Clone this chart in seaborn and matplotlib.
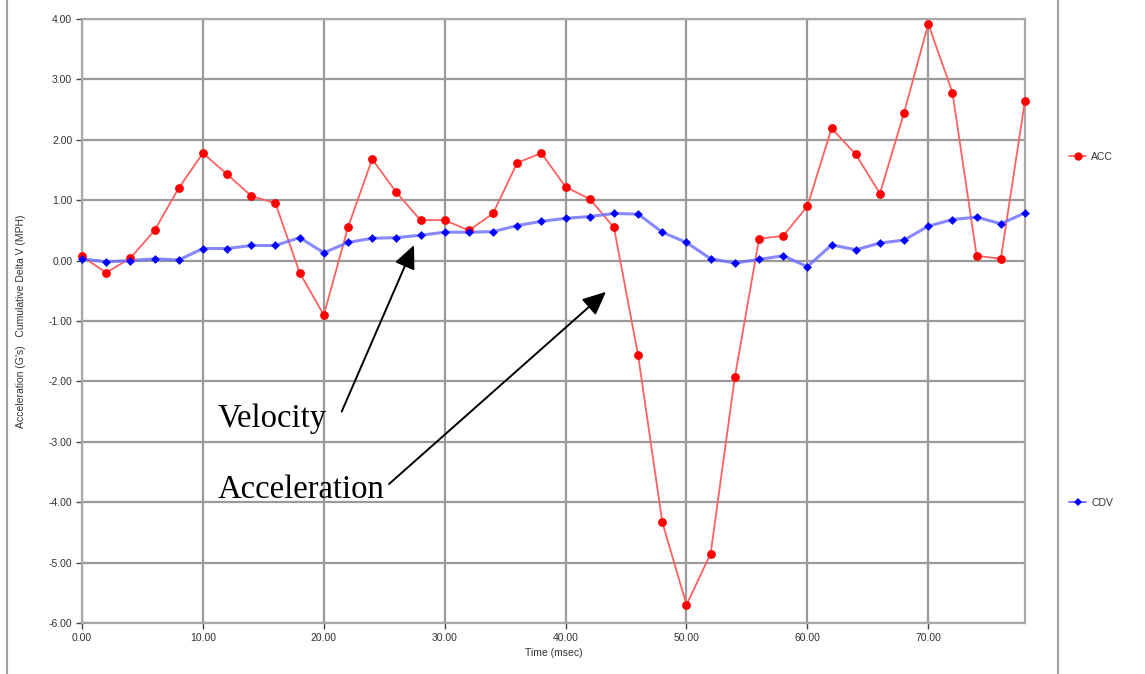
import numpy as np
import pandas as pd
import matplotlib
matplotlib.use("Agg")
import matplotlib.pyplot as plt
from matplotlib.lines import Line2D
import seaborn as sns

time_ms = [0, 2, 4, 6, 8, 10, 12, 14, 16, 18, 20, 22, 24, 26, 28, 30, 32, 34, 36, 38,
           40, 42, 44, 46, 48, 50, 52, 54, 56, 58, 60, 62, 64, 66, 68, 70, 72, 74, 76, 78]
acc = [0.07, -0.20, 0.04, 0.50, 1.20, 1.78, 1.43, 1.07, 0.95, -0.20,
       -0.90, 0.55, 1.68, 1.13, 0.67, 0.67, 0.50, 0.78, 1.62, 1.78,
       1.22, 1.02, 0.55, -1.57, -4.33, -5.70, -4.85, -1.93, 0.36, 0.41,
       0.90, 2.19, 1.76, 1.11, 2.45, 3.92, 2.78, 0.08, 0.03, 2.65]
cdv = [0.03, -0.02, 0.00, 0.03, 0.01, 0.20, 0.20, 0.25, 0.25, 0.38,
       0.13, 0.30, 0.37, 0.38, 0.42, 0.47, 0.47, 0.48, 0.58, 0.65,
       0.70, 0.73, 0.78, 0.77, 0.47, 0.30, 0.03, -0.04, 0.02, 0.08,
       -0.10, 0.26, 0.18, 0.29, 0.34, 0.57, 0.68, 0.72, 0.61, 0.79]
x_ticks = [0, 10, 20, 30, 40, 50, 60, 70]
y_ticks = [4, 3, 2, 1, 0, -1, -2, -3, -4, -5, -6]

df = pd.DataFrame({"t": time_ms, "ACC": acc, "CDV": cdv})

sns.set_theme(style="white")
plt.rcParams['font.family'] = ['Liberation Sans', 'DejaVu Sans']

fig = plt.figure(figsize=(11.45, 6.74), dpi=100)
ax = fig.add_axes([82/1145, 1-623/674, (1025-82)/1145, (623-19)/674])

# connecting lines (lighter, drawn underneath)
sns.lineplot(data=df, x="t", y="ACC", ax=ax, color="#ff6060", lw=1.3, zorder=3)
sns.lineplot(data=df, x="t", y="CDV", ax=ax, color="#6a6aff", lw=2.2, alpha=0.8, zorder=3)
# markers
sns.scatterplot(data=df, x="t", y="ACC", ax=ax, color="#ff0000", marker="o", s=40,
                linewidth=0, zorder=4, clip_on=False)
sns.scatterplot(data=df, x="t", y="CDV", ax=ax, color="#0000ff", marker="D", s=20,
                linewidth=0, zorder=4, clip_on=False)

ax.set_xlim(0, 78)
ax.set_ylim(-6, 4)
ax.set_xticks(x_ticks)
ax.set_xticklabels([f"{v:.2f}" for v in x_ticks])
ax.set_yticks(y_ticks)
ax.set_yticklabels([f"{v:.2f}" for v in y_ticks])
ax.tick_params(axis="both", labelsize=7.5, colors="#444444", length=4, width=1,
               direction="out", left=True, bottom=True, pad=3)
ax.tick_params(axis="both", labelcolor="#333333")
ax.grid(True, color="#9a9a9a", lw=1.6)
for s in ax.spines.values():
    s.set_color("#a8a8a8")
    s.set_linewidth(1.6)

ax.set_xlabel("Time (msec)", fontsize=7.5, color="#333333", labelpad=4)
ax.set_ylabel("Acceleration (G's)   Cumulative Delta V (MPH)", fontsize=7.5,
              color="#333333", labelpad=16)

# annotations
serif = ["Liberation Serif", "DejaVu Serif"]
ax.text(11.2, -2.757, "Velocity", fontsize=23.5, family=serif, va="baseline", ha="left",
        color="black")
ax.text(11.2, -3.93, "Acceleration", fontsize=23.5, family=serif, va="baseline", ha="left",
        color="black")
astyle = "-|>,head_length=0.55,head_width=0.25"
ax.annotate("", xy=(27.46, 0.257), xytext=(21.48, -2.50),
            arrowprops=dict(arrowstyle=astyle, mutation_scale=26, lw=1.4, color="black",
                            shrinkA=0, shrinkB=0))
ax.annotate("", xy=(43.34, -0.517), xytext=(25.39, -3.70),
            arrowprops=dict(arrowstyle=astyle, mutation_scale=26, lw=1.4, color="black",
                            shrinkA=0, shrinkB=0))

# legends
h_acc = Line2D([], [], color="#ff6060", lw=1.3, marker="o", markersize=6,
               markerfacecolor="#ff0000", markeredgewidth=0)
h_cdv = Line2D([], [], color="#6a6aff", lw=1.3, marker="D", markersize=4.5,
               markerfacecolor="#0000ff", markeredgewidth=0)
leg1 = fig.legend([h_acc], ["ACC"], loc="center left",
                  bbox_to_anchor=(1060/1145, 1-157/674), frameon=False,
                  fontsize=7.5, handlelength=1.6, handletextpad=0.5)
leg2 = fig.legend([h_cdv], ["CDV"], loc="center left",
                  bbox_to_anchor=(1060/1145, 1-503/674), frameon=False,
                  fontsize=7.5, handlelength=1.6, handletextpad=0.5)
for lg in (leg1, leg2):
    for tx in lg.get_texts():
        tx.set_color("#333333")

# frame lines
fig.add_artist(Line2D([7/1145, 7/1145], [0, 1], transform=fig.transFigure,
                      color="#a0a0a0", lw=1.5))
fig.add_artist(Line2D([1058/1145, 1058/1145], [0, 1], transform=fig.transFigure,
                      color="#a0a0a0", lw=1.5))

fig.savefig("out.png", dpi=100)
